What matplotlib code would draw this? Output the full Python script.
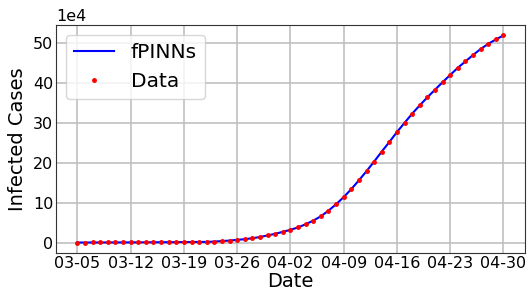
import matplotlib
matplotlib.use("Agg")
import matplotlib.pyplot as plt
import pandas as pd
import numpy as np

dates = pd.date_range("2020-03-05", "2020-04-30", freq="D")
tick_labels = ["03-05", "03-12", "03-19", "03-26", "04-02", "04-09", "04-16", "04-23", "04-30"]

# infected cases, in units of 1e4
data_cases = [0.02, 0.02, 0.03, 0.03, 0.04, 0.04, 0.05, 0.05, 0.06, 0.07,
              0.08, 0.09, 0.10, 0.11, 0.13, 0.15, 0.16, 0.18, 0.25, 0.4,
              0.5, 0.7, 0.85, 1.1, 1.4, 1.8, 2.2, 2.7, 3.2, 3.8,
              4.6, 5.5, 6.6, 8.0, 9.6, 11.4, 13.4, 15.6, 17.9, 20.3,
              22.8, 25.2, 27.7, 30.0, 32.3, 34.4, 36.4, 38.3, 40.2, 42.0,
              43.8, 45.4, 47.0, 48.5, 49.8, 50.9, 51.9]
fpinns_cases = [0.02, 0.02, 0.03, 0.03, 0.04, 0.04, 0.05, 0.05, 0.06, 0.07,
                0.08, 0.09, 0.10, 0.11, 0.13, 0.15, 0.16, 0.18, 0.25, 0.4,
                0.5, 0.7, 0.85, 1.1, 1.4, 1.8, 2.2, 2.7, 3.2, 3.8,
                4.6, 5.5, 6.6, 8.0, 9.6, 11.4, 13.4, 15.6, 17.9, 20.3,
                22.8, 25.2, 27.7, 30.0, 32.3, 34.4, 36.4, 38.3, 40.2, 42.0,
                43.8, 45.4, 47.0, 48.5, 49.8, 50.9, 51.9]

scale = 1e4
fig = plt.figure(figsize=(5.29, 2.92), dpi=100)
ax = fig.add_axes([0.106, 0.134, 0.886, 0.780])

ax.plot(dates, np.array(fpinns_cases) * scale, color="blue", lw=1.5, label="fPINNs")
ax.plot(dates, np.array(data_cases) * scale, "r.", ms=5, label="Data")

tick_dates = pd.to_datetime(["2020-" + t for t in tick_labels])
ax.set_xticks(tick_dates)
ax.set_xticklabels(tick_labels)
ax.ticklabel_format(axis="y", style="sci", scilimits=(4, 4))
ax.yaxis.get_offset_text().set_fontsize(11.5)
ax.tick_params(labelsize=11.5, length=0, pad=2)
ax.grid(True, color="#c0c0c0", lw=1.2)
for s in ax.spines.values():
    s.set_color("#333333")
ax.set_xlabel("Date", fontsize=14, labelpad=1)
ax.set_ylabel("Infected Cases", fontsize=14, labelpad=4)
ax.legend(loc="upper left", fontsize=14.5)

fig.savefig("out.png", dpi=100)
